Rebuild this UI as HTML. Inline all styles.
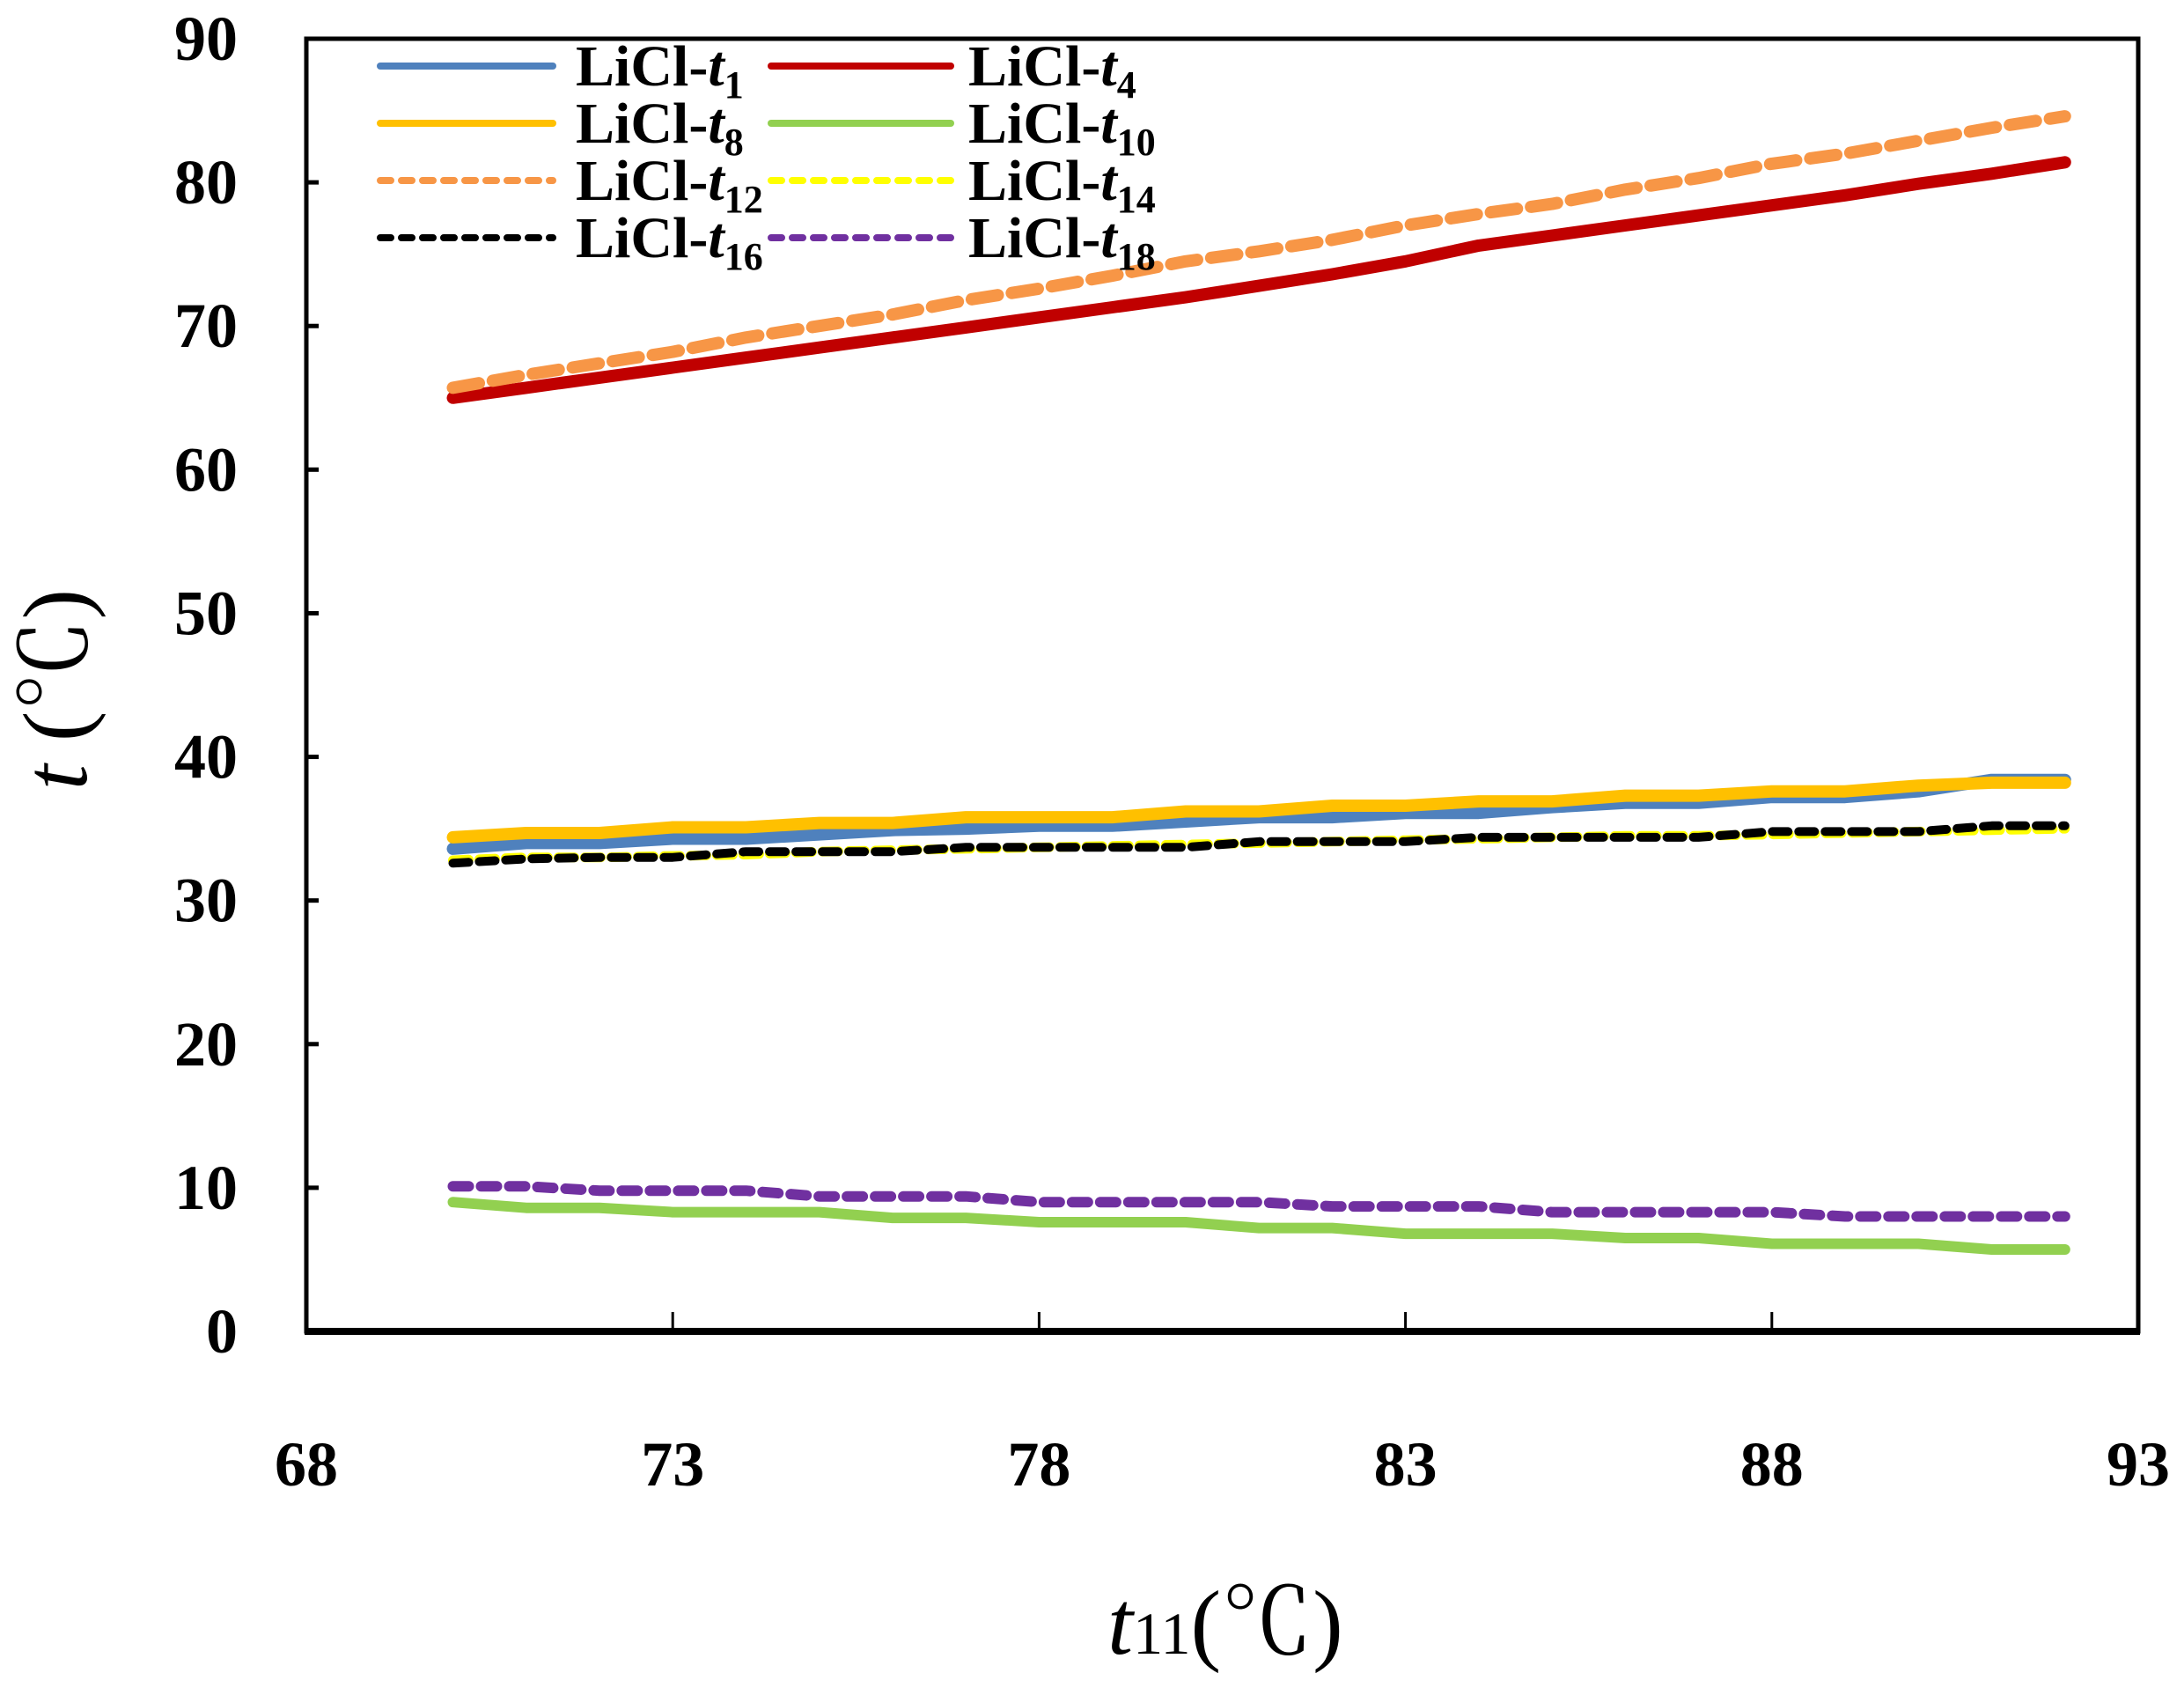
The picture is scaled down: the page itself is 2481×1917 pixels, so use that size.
<!DOCTYPE html>
<html><head><meta charset="utf-8"><style>
html,body{margin:0;padding:0;background:#fff;}
svg{display:block;font-family:"Liberation Serif","Noto Serif CJK SC",serif;}
</style></head><body>
<svg id="chart" width="2481" height="1917" viewBox="0 0 2481 1917" xmlns="http://www.w3.org/2000/svg">
<g id="lines"></g>
<rect x="348" y="44" width="2081" height="1468" fill="none" stroke="#000" stroke-width="5"/>
<line x1="346" y1="1512" x2="2431" y2="1512" stroke="#000" stroke-width="8"/>
<g id="ticks"></g>
<g id="legend"></g>
<text x="1392" y="1878" text-anchor="middle" font-size="104" font-style="italic">t<tspan font-size="68" font-style="normal">11</tspan><tspan font-style="normal">(℃)</tspan></text>
<text transform="translate(98,783) rotate(-90)" text-anchor="middle" font-size="104" font-style="italic">t <tspan font-style="normal">(℃)</tspan></text>
</svg>
<script>
const xs = [70,71,72,73,74,75,76,77,78,79,80,81,82,83,84,85,86,87,88,89,90,91,92];
const t1 = [33.6,34.0,34.0,34.3,34.3,34.6,34.9,35.0,35.2,35.2,35.5,35.8,35.8,36.1,36.1,36.5,36.8,36.8,37.2,37.2,37.6,38.4,38.4];
const t4 = [65.0,65.7,66.4,67.1,67.8,68.5,69.2,69.9,70.6,71.3,72.0,72.8,73.6,74.5,75.6,76.3,77.0,77.7,78.4,79.1,79.9,80.6,81.4];
const t8 = [34.4,34.7,34.7,35.1,35.1,35.4,35.4,35.8,35.8,35.8,36.2,36.2,36.6,36.6,36.9,36.9,37.3,37.3,37.6,37.6,38.0,38.2,38.2];
const t10 = [9.0,8.6,8.6,8.3,8.3,8.3,7.9,7.9,7.6,7.6,7.6,7.2,7.2,6.8,6.8,6.8,6.5,6.5,6.1,6.1,6.1,5.7,5.7];
const t12 = [65.7,66.6,67.4,68.2,69.2,70.0,70.8,71.8,72.6,73.5,74.5,75.2,76.0,77.0,77.8,78.5,79.5,80.3,81.3,82.0,82.9,83.8,84.6];
const t14 = [32.8,33.0,33.0,33.1,33.2,33.4,33.5,33.6,33.7,33.8,33.9,34.0,34.1,34.2,34.3,34.4,34.5,34.5,34.6,34.7,34.8,34.9,35.0];
const t16 = [32.6,32.9,33.0,33.0,33.4,33.4,33.4,33.7,33.7,33.7,33.7,34.1,34.1,34.1,34.4,34.4,34.4,34.4,34.8,34.8,34.8,35.2,35.2];
const t18 = [10.1,10.1,9.8,9.8,9.8,9.4,9.4,9.4,9.0,9.0,9.0,9.0,8.7,8.7,8.7,8.3,8.3,8.3,8.3,8.0,8.0,8.0,8.0];
const xTicks = [68,73,78,83,88,93];
const yTicks = [0,10,20,30,40,50,60,70,80,90];
const seriesLabels = ["1","4","8","10","12","14","16","18"];

const NS="http://www.w3.org/2000/svg";
const X0=348,X1=2429,Y0=1512,Y1=44;
function xScale(v){return X0+(v-68)/(93-68)*(X1-X0);}
function yScale(v){return Y0-(v-0)/(90-0)*(Y0-Y1);}
function mk(tag,attrs,parent){const e=document.createElementNS(NS,tag);for(const k in attrs)e.setAttribute(k,attrs[k]);parent.appendChild(e);return e;}

const styles=[
 {d:t1,c:"#4f81bd",w:14,dash:null},
 {d:t4,c:"#c00000",w:14,dash:null},
 {d:t8,c:"#ffc000",w:14,dash:null},
 {d:t10,c:"#92d050",w:12,dash:null},
 {d:t12,c:"#f79646",w:14,dash:"30 16"},
 {d:t14,c:"#ffff00",w:11,dash:"18 12"},
 {d:t16,c:"#000000",w:10,dash:"18 12"},
 {d:t18,c:"#7030a0",w:12,dash:"18 14"}
];
const order=[0,2,5,6,1,4,3,7];
const lg=document.getElementById("lines");
order.forEach(i=>{
 const s=styles[i];
 const pts=xs.map((x,j)=>xScale(x).toFixed(1)+","+yScale(s.d[j]).toFixed(1)).join(" ");
 const p=mk("polyline",{points:pts,fill:"none",stroke:s.c,"stroke-width":s.w,"stroke-linejoin":"round","stroke-linecap":"round"},lg);
 if(s.dash)p.setAttribute("stroke-dasharray",s.dash);
 
 
});

const tg=document.getElementById("ticks");
yTicks.forEach(v=>{
 const y=yScale(v);
 if(v>0&&v<90){
  const l=mk("line",{x1:X0,y1:y,x2:X0+14,y2:y,stroke:"#000","stroke-width":5},tg);
  
  
 }
 const t=mk("text",{x:270,y:y+24,"text-anchor":"end","font-size":72,"font-weight":"bold"},tg);
 t.textContent=v;
 
 
});
xTicks.forEach(v=>{
 const x=xScale(v);
 if(v>68&&v<93){
  const l=mk("line",{x1:x,y1:Y0,x2:x,y2:Y0-22,stroke:"#000","stroke-width":3},tg);
  
  
 }
 const t=mk("text",{x:x,y:1687,"text-anchor":"middle","font-size":72,"font-weight":"bold"},tg);
 t.textContent=v;
 
 
});

const leg=document.getElementById("legend");
const rowsY=[75,140,205,270];
const colLine=[[432,628],[876,1080]];
const colText=[654,1100];
styles.forEach((s,i)=>{
 const col=i%2,row=Math.floor(i/2);
 const y=rowsY[row];
 const g=mk("g",{},leg);
 
 
 const l=mk("line",{x1:colLine[col][0],y1:y,x2:colLine[col][1],y2:y,stroke:s.c,"stroke-width":8,"stroke-linecap":"round"},g);
 if(s.dash)l.setAttribute("stroke-dasharray","12 12");
 const t=mk("text",{x:colText[col],y:y+22,"font-size":66,"font-weight":"bold"},g);
 t.innerHTML='LiCl-<tspan font-style="italic">t</tspan><tspan font-size="44" dy="14">'+seriesLabels[i]+'</tspan>';
});
</script>
</body></html>
